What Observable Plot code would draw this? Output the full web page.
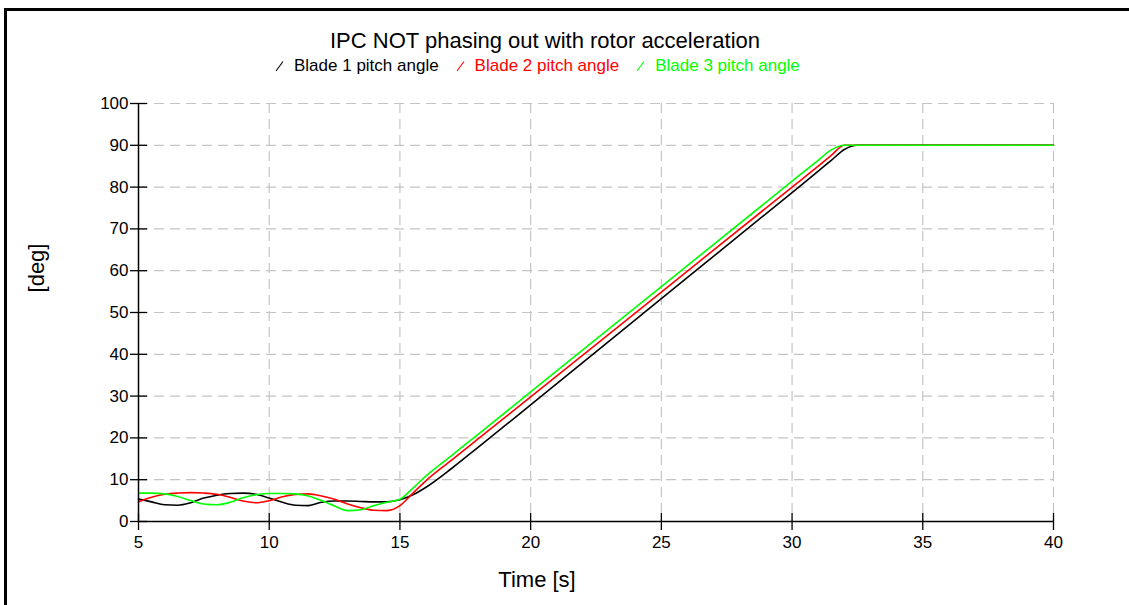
<!DOCTYPE html>
<html>
<head>
<meta charset="utf-8">
<script src="https://cdn.jsdelivr.net/npm/d3@7"></script>
<script src="https://cdn.jsdelivr.net/npm/@observablehq/plot@0.6"></script>
<style>
html, body { margin: 0; padding: 0; background: #fff; overflow: hidden; width: 1129px; height: 605px; }
body { position: relative; font-family: "Liberation Sans", Arial, sans-serif; color: #000; }
#chart { position: absolute; left: 0; top: 0; }
.abs { position: absolute; white-space: nowrap; line-height: 1; }
#frame { position: absolute; left: 4px; top: 8px; width: 1300px; height: 800px; border: 3px solid #000; box-sizing: border-box; pointer-events: none; }
#legend { display: flex; align-items: flex-start; font-size: 17px; }
.item { display: flex; align-items: flex-start; margin-right: 17px; }
.item svg { display: block; margin-right: 9px; }
</style>
</head>
<body>
<div id="chart"></div>
<div id="title" class="abs" style="left:0; width:1090px; text-align:center; top:30px; font-size:22px;"></div>
<div id="legend" class="abs" style="left:275px; top:57px;"></div>
<div id="ylabel" class="abs" style="left:37px; top:268px; font-size:22px; transform: translate(-50%, -50%) rotate(-90deg);"></div>
<div id="xlabel" class="abs" style="left:537px; top:569px; font-size:22px; transform: translateX(-50%);"></div>
<div id="frame"></div>
<script>
// ---- data ----
const titleText = "IPC NOT phasing out with rotor acceleration";
const xLabel = "Time [s]";
const yLabel = "[deg]";
const seriesNames = ["Blade 1 pitch angle", "Blade 2 pitch angle", "Blade 3 pitch angle"];
const seriesColors = ["#000000", "#ff0000", "#00ff00"];
const xTicks = [5, 10, 15, 20, 25, 30, 35, 40];
const yTicks = [0, 10, 20, 30, 40, 50, 60, 70, 80, 90, 100];

const time = [5, 5.5, 6, 6.5, 7, 7.5, 8, 8.5, 9, 9.5, 10, 10.5, 11, 11.5, 12, 12.5, 13, 13.5, 14, 14.5, 15, 15.5, 16, 17, 18, 20, 25, 30, 31, 31.5, 32, 32.5, 33, 35, 40];
const blade1 = [5.4, 4.7, 4.0, 3.9, 4.5, 5.6, 6.3, 6.7, 6.8, 6.5, 5.6, 4.6, 3.9, 3.8, 4.6, 4.9, 4.9, 4.8, 4.7, 4.7, 5.2, 6.4, 8.2, 12.8, 17.8, 27.9, 53.3, 78.7, 83.8, 86.4, 89.0, 90, 90, 90, 90];
const blade2 = [4.7, 5.8, 6.5, 6.8, 6.9, 6.8, 6.5, 5.8, 4.9, 4.5, 5.0, 5.9, 6.5, 6.6, 6.1, 5.3, 4.2, 3.3, 2.7, 2.6, 3.8, 6.8, 9.8, 14.8, 19.8, 29.8, 54.9, 80.0, 85.0, 87.6, 90, 90, 90, 90, 90];
const blade3 = [6.8, 6.8, 6.6, 6.0, 5.0, 4.2, 4.0, 4.6, 5.7, 6.4, 6.7, 6.7, 6.6, 6.1, 5.0, 3.7, 2.6, 2.8, 3.8, 4.6, 5.3, 8.0, 10.9, 15.9, 20.9, 31.0, 56.2, 81.4, 86.4, 88.9, 90, 90, 90, 90, 90];

// ---- build table ----
const bladeValues = [blade1, blade2, blade3];
const rows = [];
bladeValues.forEach((vals, i) => {
  time.forEach((t, j) => rows.push({t, v: vals[j], blade: seriesNames[i]}));
});

const gridStyle = {stroke: "#c4c4c4", strokeOpacity: 1, strokeDasharray: "10,6", strokeWidth: 1.2};

const chart = Plot.plot({
  width: 1129,
  height: 605,
  marginLeft: 138,
  marginRight: 76,
  marginTop: 103,
  marginBottom: 84,
  style: {background: "transparent", fontFamily: "'Liberation Sans', Arial, sans-serif", fontSize: "17px", color: "#000", overflow: "visible"},
  x: {domain: [xTicks[0], xTicks[xTicks.length - 1]]},
  y: {domain: [yTicks[0], yTicks[yTicks.length - 1]]},
  color: {domain: seriesNames, range: seriesColors},
  marks: [
    Plot.gridX({ticks: xTicks.slice(1), ...gridStyle}),
    Plot.gridY({ticks: yTicks.slice(1), ...gridStyle}),
    Plot.line(rows, {x: "t", y: "v", stroke: "blade", strokeWidth: 1.6, curve: "monotone-x"}),
    Plot.ruleX([xTicks[0]], {stroke: "#000", strokeWidth: 1.5}),
    Plot.ruleY([yTicks[0]], {stroke: "#000", strokeWidth: 1.5}),
    Plot.axisX({ticks: xTicks, tickSize: 17, dy: -8, tickPadding: 5, label: null, strokeWidth: 1.3}),
    Plot.axisY({ticks: yTicks, tickSize: 17, dx: 9, tickPadding: 2, label: null, strokeWidth: 1.3})
  ]
});
document.getElementById("chart").appendChild(chart);

document.getElementById("title").textContent = titleText;
document.getElementById("xlabel").textContent = xLabel;
document.getElementById("ylabel").textContent = yLabel;

const legend = document.getElementById("legend");
seriesNames.forEach((name, i) => {
  const item = document.createElement("div");
  item.className = "item";
  item.innerHTML = `<svg width="10" height="17"><line x1="1" y1="14" x2="8" y2="4.5" stroke="${seriesColors[i]}" stroke-width="1.1"/></svg>`;
  const span = document.createElement("span");
  span.textContent = name;
  span.style.color = seriesColors[i];
  item.appendChild(span);
  legend.appendChild(item);
});
</script>
</body>
</html>
